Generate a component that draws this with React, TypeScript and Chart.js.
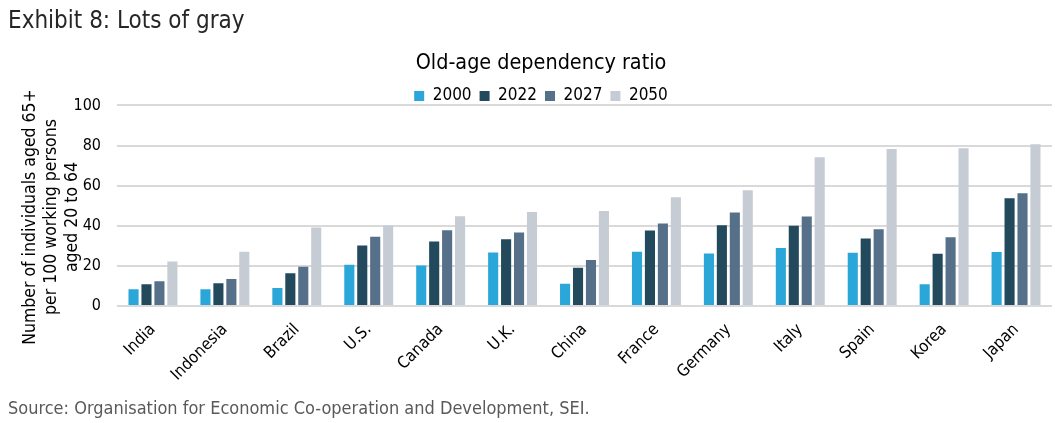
import React, { useEffect, useRef } from "react";
import { Chart, registerables } from "chart.js";

Chart.register(...registerables);

const categories = ["India", "Indonesia", "Brazil", "U.S.", "Canada", "U.K.", "China", "France", "Germany", "Italy", "Spain", "Korea", "Japan"];
const series2000 = [8.3, 8.3, 9.0, 20.6, 20.2, 26.7, 11.1, 27.0, 26.2, 28.9, 26.5, 10.9, 26.9];
const series2022 = [10.9, 11.3, 16.3, 30.2, 32.2, 33.3, 19.1, 37.6, 40.3, 40.0, 33.7, 26.0, 53.7];
const series2027 = [12.3, 13.4, 19.6, 34.5, 37.8, 36.7, 22.9, 41.1, 46.6, 44.6, 38.2, 34.3, 56.2];
const series2050 = [22.2, 27.0, 39.1, 40.1, 44.8, 46.9, 47.3, 54.2, 57.7, 74.1, 78.3, 78.6, 80.6];
const seriesNames = ["2000", "2022", "2027", "2050"];
const seriesColors = ["#2aa7d8", "#23495c", "#57708a", "#c5ccd4"];

const exhibitTitle = "Exhibit 8: Lots of gray";
const chartTitle = "Old-age dependency ratio";
const yTitleLines = ["Number of individuals aged 65+", "per 100 working persons", "aged 20 to 64"];
const sourceText = "Source: Organisation for Economic Co-operation and Development, SEI.";

const FONT = "'DejaVu Sans Condensed', 'DejaVu Sans', sans-serif";

export default function App() {
  const ref = useRef<HTMLCanvasElement | null>(null);

  useEffect(() => {
    if (!ref.current) return;
    const textPlugin = {
      id: "extraText",
      afterDraw(chart: any) {
        const ctx = chart.ctx;
        ctx.save();
        ctx.fillStyle = "#262626";
        ctx.font = `24px ${FONT}`;
        ctx.textAlign = "left";
        ctx.textBaseline = "alphabetic";
        ctx.fillText(exhibitTitle, 8, 28);

        ctx.fillStyle = "#595959";
        ctx.font = `18px ${FONT}`;
        ctx.fillText(sourceText, 8, 414);

        ctx.fillStyle = "#000000";
        ctx.font = `17.5px ${FONT}`;
        ctx.textAlign = "center";
        ctx.textBaseline = "middle";
        const xs = [30, 51, 72];
        yTitleLines.forEach((line, i) => {
          ctx.save();
          ctx.translate(xs[i], 217);
          ctx.rotate(-Math.PI / 2);
          ctx.fillText(line, 0, 0);
          ctx.restore();
        });
        ctx.restore();
      },
    };

    const datasets = [series2000, series2022, series2027, series2050].map((d, i) => ({
      label: seriesNames[i],
      data: d,
      backgroundColor: seriesColors[i],
      borderWidth: 0,
      categoryPercentage: 0.72,
      barPercentage: 0.78,
    }));

    const chart = new Chart(ref.current, {
      type: "bar",
      data: { labels: categories, datasets },
      options: {
        responsive: false,
        animation: false,
        devicePixelRatio: 1,
        layout: { padding: { top: 53, left: 30, right: 10, bottom: 0 } },
        plugins: {
          title: {
            display: true,
            text: chartTitle,
            color: "#000",
            font: { family: FONT, size: 21.4, weight: "normal", lineHeight: 1 },
            padding: { top: 0, bottom: 5 },
          },
          legend: {
            display: true,
            position: "top",
            maxHeight: 26,
            labels: {
              color: "#000",
              boxWidth: 10,
              boxHeight: 10,
              padding: 8,
              font: { family: FONT, size: 17 },
            },
          },
          tooltip: { enabled: false },
        },
        scales: {
          x: {
            grid: { display: false },
            border: { display: false },
            ticks: {
              color: "#000",
              font: { family: FONT, size: 16.5 },
              maxRotation: 45,
              minRotation: 45,
              padding: 6,
            },
            afterFit(scale: any) {
              scale.height = 117;
            },
          },
          y: {
            min: 0,
            max: 100,
            ticks: {
              stepSize: 20,
              color: "#000",
              font: { family: FONT, size: 16 },
              padding: 16,
            },
            grid: { color: "#d9d9d9", lineWidth: 2, drawTicks: false },
            border: { display: false },
            afterFit(scale: any) {
              scale.width = 87;
            },
          },
        },
      },
      plugins: [textPlugin],
    });
    return () => chart.destroy();
  }, []);

  return (
    <div style={{ position: "absolute", left: 0, top: 0, width: 1062, height: 423, background: "#fff" }}>
      <canvas ref={ref} width={1062} height={423} />
    </div>
  );
}
